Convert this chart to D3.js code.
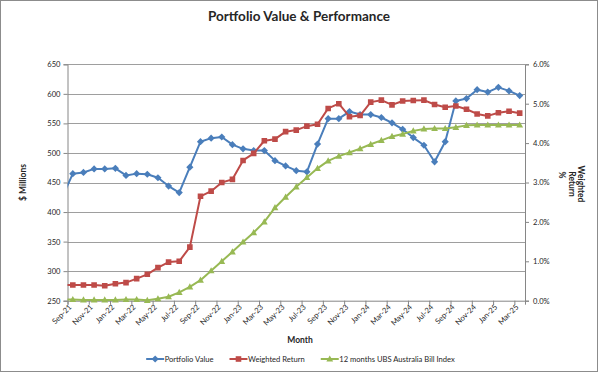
<!DOCTYPE html>
<html>
<head>
<meta charset="utf-8">
<script src="https://cdn.jsdelivr.net/npm/d3@7"></script>
<style>
  body { margin: 0; background: #fff; }
  svg text { font-family: Lato, "Open Sans", sans-serif; fill: #262626; }
</style>
</head>
<body>
<div id="chart"></div>
<script>
// Data
// Aug-21 sits half a step left of the axis, so only the line into Sep-21 shows
var months = ["Aug-21","Sep-21","Oct-21","Nov-21","Dec-21","Jan-22","Feb-22","Mar-22","Apr-22",
  "May-22","Jun-22","Jul-22","Aug-22","Sep-22","Oct-22","Nov-22","Dec-22","Jan-23","Feb-23",
  "Mar-23","Apr-23","May-23","Jun-23","Jul-23","Aug-23","Sep-23","Oct-23","Nov-23","Dec-23",
  "Jan-24","Feb-24","Mar-24","Apr-24","May-24","Jun-24","Jul-24","Aug-24","Sep-24","Oct-24",
  "Nov-24","Dec-24","Jan-25","Feb-25","Mar-25"];

// $ millions (left axis)
var portfolioValue = [425, 465, 467, 473, 473, 474, 462, 465, 464, 458, 444, 433, 476, 519, 525,
  527, 514, 507, 504, 504, 487, 478, 470, 468, 515, 558, 558, 570, 565, 565, 560, 551, 540, 526,
  513, 485, 519, 588, 592, 607, 603, 611, 605, 597];

// percent (right axis)
var weightedReturn = [0.40, 0.40, 0.40, 0.40, 0.38, 0.43, 0.46, 0.56, 0.67, 0.84, 0.98, 1.00, 1.36,
  2.65, 2.78, 3.00, 3.08, 3.56, 3.74, 4.06, 4.10, 4.29, 4.33, 4.43, 4.48, 4.88, 5.00, 4.67, 4.70,
  5.04, 5.09, 4.97, 5.07, 5.08, 5.09, 4.98, 4.91, 4.94, 4.86, 4.74, 4.69, 4.77, 4.81, 4.76];

var ubsBillIndex = [0.03, 0.03, 0.02, 0.02, 0.02, 0.02, 0.03, 0.03, 0.01, 0.05, 0.10, 0.21, 0.35,
  0.52, 0.76, 1.00, 1.24, 1.49, 1.73, 2.00, 2.36, 2.63, 2.89, 3.13, 3.36, 3.55, 3.67, 3.76, 3.86,
  3.97, 4.07, 4.17, 4.23, 4.31, 4.36, 4.37, 4.37, 4.40, 4.45, 4.46, 4.46, 4.46, 4.46, 4.46];

var leftTicks = [250, 300, 350, 400, 450, 500, 550, 600, 650];
var rightTicks = [0, 1, 2, 3, 4, 5, 6];

var seriesNames = ["Portfolio Value", "Weighted Return", "12 months UBS Australia Bill Index"];

function makeChart() {
  var svgWidth = 599;
  var svgHeight = 373;
  var labelSize = 7.6;

  // plot area edges
  var left = 67.5, right = 525, top = 64.3, bottom = 300.7;

  var svg = d3.select("#chart")
    .append("svg")
    .attr("width", svgWidth)
    .attr("height", svgHeight);

  // outer frame
  svg.append("rect")
    .attr("x", 0.5).attr("y", 0.5)
    .attr("width", 597).attr("height", 371)
    .attr("fill", "#fff")
    .attr("stroke", "#8c8c8c")
    .attr("stroke-width", 1);

  // Scales: index 1 = Sep-21 is centred in the first slot (between tick marks)
  var xScale = d3.scaleLinear().domain([0.5, months.length - 0.5]).range([left, right]);
  var yLeft = d3.scaleLinear().domain([250, 650]).range([bottom, top]);
  var yRight = d3.scaleLinear().domain([0, 6]).range([bottom, top]);

  // Gridlines
  svg.append("g").selectAll("line")
    .data(leftTicks.slice(1))
    .enter().append("line")
    .attr("x1", left).attr("x2", right)
    .attr("y1", d => Math.round(yLeft(d)) + 0.5)
    .attr("y2", d => Math.round(yLeft(d)) + 0.5)
    .attr("stroke", "#9e9e9e")
    .attr("stroke-width", 1);

  // Left axis
  var leftAxis = d3.axisLeft(yLeft).tickValues(leftTicks).tickSize(4).tickPadding(3);
  var gLeft = svg.append("g").attr("transform", `translate(${left}, 0)`).call(leftAxis);

  // Right axis
  var rightAxis = d3.axisRight(yRight).tickValues(rightTicks).tickSize(4).tickPadding(4)
    .tickFormat(d => d.toFixed(1) + "%");
  var gRight = svg.append("g").attr("transform", `translate(${right}, 0)`).call(rightAxis);

  // Bottom axis: ticks at slot boundaries every 2 months, labels drawn separately
  var labelIdx = d3.range(1, months.length, 2);
  var bottomAxis = d3.axisBottom(xScale)
    .tickValues(labelIdx.map(i => i - 0.5))
    .tickSize(4)
    .tickFormat("");
  var gBottom = svg.append("g").attr("transform", `translate(0, ${bottom})`).call(bottomAxis);

  [gLeft, gRight, gBottom].forEach(function(g) {
    g.select(".domain").attr("stroke", "#868686");
    g.selectAll(".tick line").attr("stroke", "#868686");
    g.selectAll("text").attr("font-size", labelSize).attr("fill", "#333")
      .style("font-family", "Lato, 'Open Sans', sans-serif");
  });

  svg.append("g").selectAll("text")
    .data(labelIdx)
    .enter().append("text")
    .attr("transform", d => `translate(${xScale(d) - 2.5}, ${bottom + 5}) rotate(-45)`)
    .attr("text-anchor", "end")
    .attr("dy", "0.35em")
    .attr("font-size", labelSize)
    .attr("fill", "#333")
    .text(d => months[d]);

  // Axis titles
  svg.append("text")
    .attr("x", 300).attr("y", 343)
    .attr("text-anchor", "middle")
    .attr("font-size", 8.5).attr("font-weight", "bold")
    .text("Month");

  svg.append("text")
    .attr("transform", `translate(26, ${(top + bottom) / 2}) rotate(-90)`)
    .attr("text-anchor", "middle")
    .attr("font-size", 8.5).attr("font-weight", "bold")
    .text("$ Millions");

  var rTitle = svg.append("text")
    .attr("transform", `translate(578, 184) rotate(90)`)
    .attr("font-size", 8.5).attr("font-weight", "bold")
    .attr("text-anchor", "middle");
  rTitle.append("tspan").attr("x", 0).attr("dy", 0).text("Weighted");
  rTitle.append("tspan").attr("x", 0).attr("dy", "1.1em").text("Return");
  rTitle.append("tspan").attr("x", -9).attr("dy", "1.1em").text("%");

  // Chart title
  svg.append("text")
    .attr("x", 299).attr("y", 21)
    .attr("text-anchor", "middle")
    .attr("font-size", 13.5).attr("font-weight", "bold")
    .attr("fill", "#000")
    .text("Portfolio Value & Performance");

  // Series
  svg.append("clipPath").attr("id", "plotClip")
    .append("rect")
    .attr("x", left).attr("y", top - 6)
    .attr("width", right - left).attr("height", bottom - top + 12);

  var plot = svg.append("g").attr("clip-path", "url(#plotClip)");

  var diamond = "M0,-3.6L3.6,0L0,3.6L-3.6,0Z";
  var square = "M-2.8,-2.8H2.8V2.8H-2.8Z";
  var triangle = "M0,-3.6L3.4,2.6H-3.4Z";

  var series = [
    { name: seriesNames[0], values: portfolioValue, y: yLeft, color: "#4a7ebb", marker: diamond },
    { name: seriesNames[1], values: weightedReturn, y: yRight, color: "#be4b48", marker: square },
    { name: seriesNames[2], values: ubsBillIndex, y: yRight, color: "#98b954", marker: triangle }
  ];

  series.forEach(function(s) {
    var line = d3.line()
      .x((d, i) => xScale(i))
      .y(d => s.y(d));

    plot.append("path")
      .datum(s.values)
      .attr("d", line)
      .attr("fill", "none")
      .attr("stroke", s.color)
      .attr("stroke-width", 2)
      .attr("stroke-linejoin", "round");

    plot.append("g").selectAll("path")
      .data(s.values)
      .enter().append("path")
      .attr("transform", (d, i) => `translate(${xScale(i)}, ${s.y(d)})`)
      .attr("d", s.marker)
      .attr("fill", s.color);
  });

  // Legend, centred under the plot
  var legend = svg.append("g").attr("transform", "translate(0, 359)");
  var xPos = 0;
  series.forEach(function(s) {
    var item = legend.append("g");
    item.append("line")
      .attr("x1", 0).attr("x2", 18)
      .attr("stroke", s.color).attr("stroke-width", 2);
    item.append("path")
      .attr("transform", "translate(9, 0)")
      .attr("d", s.marker)
      .attr("fill", s.color);
    var t = item.append("text")
      .attr("x", 18.5).attr("dy", "0.35em")
      .attr("font-size", labelSize)
      .attr("fill", "#333")
      .text(s.name);
    item.attr("transform", `translate(${xPos}, 0)`);
    xPos += 18.5 + t.node().getComputedTextLength() + 16;
  });
  var legendWidth = xPos - 16;
  legend.attr("transform", `translate(${300.5 - legendWidth / 2}, 359)`);
}

makeChart();
</script>
</body>
</html>
